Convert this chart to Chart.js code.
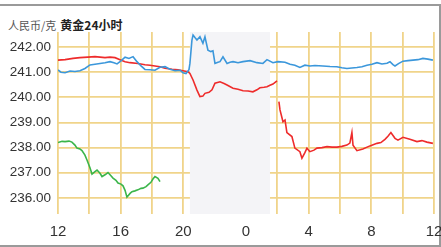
<!DOCTYPE html>
<html>
<head>
<meta charset="utf-8">
<script src="https://cdn.jsdelivr.net/npm/chart.js@4/dist/chart.umd.min.js"></script>
<style>
  html, body { margin: 0; padding: 0; background: #fff; }
  body { width: 441px; height: 247px; position: relative; overflow: hidden; }
  .frame {
    position: absolute; left: -2px; top: 4px; width: 439px; height: 239px;
    border: 2px solid #9a9a9a;
  }
  .head {
    position: absolute; left: 8px; top: 11px;
    font-family: "Noto Sans CJK SC", sans-serif; white-space: nowrap;
  }
  .unit { font-size: 11px; color: #555; }
  .name { font-size: 12px; font-weight: bold; color: #222; margin-left: 4px; }
  #chart { position: absolute; left: 0; top: 0; }
</style>
</head>
<body>
<div class="frame"></div>
<div class="head"><span class="unit">人民币/克</span><span class="name">黄金24小时</span></div>
<canvas id="chart" width="441" height="247"></canvas>
<script>
(function () {

    // ─────────────────────────────────────────────
    // DATA (hours after 12:00, price per gram)
    // ─────────────────────────────────────────────
    const redHours = [0, 0.45, 0.96, 1.4, 1.91, 2.36, 2.68, 3.0, 3.32, 3.64, 3.96, 4.28, 4.6, 5.1, 5.55, 5.87, 6.19, 6.51, 6.83, 7.28, 7.66, 7.98, 8.3, 8.42, 8.62, 8.87, 9.06, 9.25, 9.38, 9.64, 9.83, 10.02, 10.34, 10.6, 10.79, 11.17, 11.49, 11.81, 12.13, 12.44, 12.7, 12.89, 13.15, 13.34, 13.53, 13.72, 13.98, 14.02, 14.1, 14.17, 14.36, 14.49, 14.61, 14.93, 15.12, 15.44, 15.57, 15.76, 15.89, 16.08, 16.34, 16.53, 16.85, 17.17, 17.49, 17.8, 18.12, 18.44, 18.63, 18.76, 18.83, 19.08, 19.46, 19.91, 20.36, 20.61, 20.87, 21.06, 21.25, 21.51, 21.7, 22.02, 22.46, 22.91, 23.23, 23.55, 23.93];
    const redValues = [241.48, 241.5, 241.55, 241.58, 241.6, 241.62, 241.6, 241.58, 241.6, 241.58, 241.5, 241.42, 241.38, 241.35, 241.3, 241.28, 241.25, 241.22, 241.16, 241.12, 241.1, 241.06, 241.02, 240.95, 240.69, 240.29, 240.03, 240.05, 240.16, 240.2, 240.3, 240.56, 240.62, 240.55, 240.49, 240.36, 240.32, 240.26, 240.25, 240.22, 240.3, 240.38, 240.4, 240.42, 240.48, 240.53, 240.66, null, 239.83, 239.5, 239.03, 239.1, 238.6, 238.44, 237.98, 237.84, 237.58, 237.8, 237.98, 237.84, 237.9, 237.98, 238.0, 238.04, 238.02, 238.02, 238.05, 238.1, 238.18, 238.6, 238.1, 237.88, 237.95, 238.07, 238.17, 238.2, 238.33, 238.45, 238.6, 238.37, 238.3, 238.41, 238.33, 238.24, 238.28, 238.22, 238.17];

    const blueHours = [0, 0.19, 0.45, 0.77, 1.08, 1.4, 1.72, 2.04, 2.36, 2.68, 3.0, 3.32, 3.57, 3.77, 4.02, 4.28, 4.53, 4.79, 5.04, 5.3, 5.55, 5.87, 6.19, 6.51, 6.83, 7.15, 7.47, 7.79, 7.98, 8.17, 8.36, 8.42, 8.55, 8.62, 8.74, 8.87, 9.06, 9.25, 9.38, 9.57, 9.76, 9.89, 10.02, 10.21, 10.34, 10.53, 10.79, 10.98, 11.17, 11.49, 11.81, 12.26, 12.7, 13.08, 13.34, 13.72, 14.04, 14.49, 14.81, 15.12, 15.44, 15.76, 16.08, 16.4, 16.91, 17.36, 17.8, 18.12, 18.44, 18.76, 19.08, 19.4, 19.72, 20.04, 20.36, 20.68, 21.0, 21.19, 21.38, 21.51, 21.76, 22.02, 22.34, 22.66, 22.97, 23.29, 23.61, 23.93];
    const blueValues = [241.09, 241.0, 240.98, 241.05, 241.03, 241.06, 241.15, 241.29, 241.32, 241.35, 241.38, 241.42, 241.38, 241.33, 241.45, 241.6, 241.55, 241.62, 241.42, 241.25, 241.11, 241.1, 241.08, 241.2, 241.22, 241.12, 241.06, 241.08, 240.98, 240.95, 241.1, 241.35, 242.28, 242.48, 242.38, 242.28, 242.41, 242.15, 242.41, 241.88, 241.82, 241.85, 241.35, 241.4, 241.42, 241.61, 241.35, 241.4, 241.42, 241.38, 241.42, 241.46, 241.38, 241.35, 241.5, 241.38, 241.42, 241.4, 241.32, 241.28, 241.19, 241.28, 241.25, 241.27, 241.25, 241.23, 241.22, 241.18, 241.15, 241.17, 241.19, 241.22, 241.28, 241.32, 241.38, 241.33, 241.36, 241.42, 241.3, 241.25, 241.35, 241.44, 241.46, 241.48, 241.5, 241.55, 241.52, 241.48];

    const greenHours = [0, 0.26, 0.45, 0.7, 0.89, 1.08, 1.21, 1.4, 1.53, 1.72, 1.85, 2.04, 2.17, 2.36, 2.49, 2.68, 2.81, 3.0, 3.19, 3.38, 3.51, 3.7, 3.83, 4.02, 4.15, 4.28, 4.4, 4.6, 4.72, 4.91, 5.1, 5.3, 5.42, 5.62, 5.74, 5.93, 6.06, 6.19, 6.38, 6.51];
    const greenValues = [238.2, 238.25, 238.24, 238.26, 238.22, 238.1, 237.98, 237.95, 237.88, 237.7, 237.51, 237.2, 236.95, 237.05, 237.11, 236.98, 236.85, 236.92, 237.01, 236.88, 236.79, 236.7, 236.59, 236.55, 236.48, 236.3, 236.03, 236.18, 236.25, 236.28, 236.32, 236.38, 236.39, 236.45, 236.52, 236.62, 236.75, 236.85, 236.78, 236.65];

    const yTicks = [236, 237, 238, 239, 240, 241, 242];
    const startHour = 12;          // x = 0 is 12:00
    const shadeFrom = 8.42;        // grey session band, hours after 12:00
    const shadeTo = 13.53;


    // ─────────────────────────────────────────────
    // HELPERS
    // ─────────────────────────────────────────────
    function toPoints(hours, values) {
        return hours.map((h, i) => ({ x: h, y: values[i] }));
    }

    function lineSet(hours, values, color) {
        return {
            data: toPoints(hours, values),
            borderColor: color,
            borderWidth: 1.6,
            pointRadius: 0,
            tension: 0,
            spanGaps: false
        };
    }

    const shadePlugin = {
        id: 'shade',
        beforeDatasetsDraw(chart) {
            const { ctx, chartArea, scales } = chart;
            const x0 = scales.x.getPixelForValue(shadeFrom);
            const x1 = scales.x.getPixelForValue(shadeTo);
            ctx.save();
            ctx.fillStyle = '#f4f4f7';
            ctx.fillRect(x0, chartArea.top, x1 - x0, chartArea.bottom - chartArea.top);
            ctx.restore();
        }
    };

    const gridColor = '#f0d48a';


    // ─────────────────────────────────────────────
    // CHART
    // ─────────────────────────────────────────────
    new Chart(document.getElementById('chart').getContext('2d'), {
        type: 'line',
        data: {
            datasets: [
                lineSet(blueHours, blueValues, '#3b97db'),
                lineSet(redHours, redValues, '#ee2b2b'),
                lineSet(greenHours, greenValues, '#3bb54a')
            ]
        },
        options: {
            responsive: false,
            animation: false,
            events: [],
            layout: { padding: { top: 32, right: 7, bottom: 0, left: 0 } },
            plugins: { legend: { display: false }, tooltip: { enabled: false } },
            scales: {
                x: {
                    type: 'linear',
                    min: 0,
                    max: 24,
                    afterFit(axis) {
                        axis.height = 33;
                        axis.paddingLeft = 0;
                        axis.paddingRight = 0;
                    },
                    ticks: {
                        stepSize: 2,
                        autoSkip: false,
                        maxRotation: 0,
                        padding: 9,
                        color: '#333',
                        font: { family: 'Liberation Sans, Arial, sans-serif', size: 15 },
                        callback: v => (v % 4 === 0 ? String((startHour + v) % 24) : '')
                    },
                    grid: { color: gridColor, lineWidth: 1.8, drawTicks: false },
                    border: { display: false }
                },
                y: {
                    min: 235.36,
                    max: 242.6,
                    afterFit(axis) {
                        axis.width = 58;
                        axis.paddingTop = 0;
                        axis.paddingBottom = 0;
                    },
                    afterBuildTicks(axis) { axis.ticks = yTicks.map(v => ({ value: v })); },
                    ticks: {
                        padding: 7,
                        color: '#333',
                        font: { family: 'Liberation Sans, Arial, sans-serif', size: 13.5 },
                        callback: v => v.toFixed(2)
                    },
                    grid: { color: gridColor, lineWidth: 1.8, drawTicks: false },
                    border: { display: false }
                }
            }
        },
        plugins: [shadePlugin]
    });

})();
</script>
</body>
</html>
